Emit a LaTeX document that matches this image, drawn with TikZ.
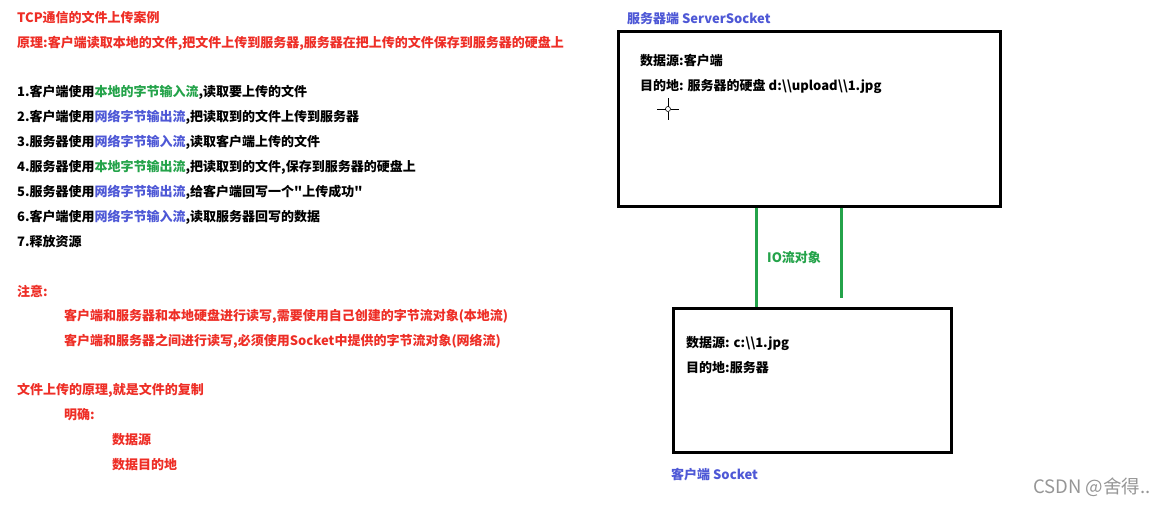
\documentclass[tikz,border=0pt]{standalone}
\usepackage{fontspec}
\usetikzlibrary{calc}
\setmainfont{Noto Sans CJK SC}
\newfontfamily\wmfont{Noto Sans CJK SC}
\font\qfb="Noto Sans CJK SC/B" at 13pt
\newcommand\sq{{\qfb\char34}}
\definecolor{tred}{RGB}{238,46,38}
\definecolor{tgreen}{RGB}{36,163,74}
\definecolor{tblue}{RGB}{78,88,214}
\definecolor{wgray}{RGB}{150,150,150}
\begin{document}
\begin{tikzpicture}[x=1pt,y=-1pt,
  txt/.style={anchor=base west,inner sep=0pt,font=\fontsize{13}{15}\selectfont\bfseries},
  red/.style={txt,text=tred},
  blk/.style={txt,text=black},
  blu/.style={txt,text=tblue},
  grn/.style={txt,text=tgreen},
  box/.style={draw=black,line width=3pt,inner sep=0pt},
  io/.style={draw=tgreen,line width=3pt}]
\useasboundingbox[fill=white] (0,0) rectangle (1171,504);
% left column
\node[red] (title) at (17,22) {TCP通信的文件上传案例};
\node[red] (princ) at (17,47) {原理:客户端读取本地的文件,把文件上传到服务器,服务器在把上传的文件保存到服务器的硬盘上};
\node[blk] (s1) at (17,96) {1.客户端使用\textcolor{tgreen}{本地的字节输入流},读取要上传的文件};
\node[blk] (s2) at (17,121) {2.客户端使用\textcolor{tblue}{网络字节输出流},把读取到的文件上传到服务器};
\node[blk] (s3) at (17,146) {3.服务器使用\textcolor{tblue}{网络字节输入流},读取客户端上传的文件};
\node[blk] (s4) at (17,171) {4.服务器使用\textcolor{tgreen}{本地字节输出流},把读取到的文件,保存到服务器的硬盘上};
\node[blk] (s5) at (17,196) {5.服务器使用\textcolor{tblue}{网络字节输出流},给客户端回写一个\sq 上传成功\sq};
\node[blk] (s6) at (17,221) {6.客户端使用\textcolor{tblue}{网络字节输入流},读取服务器回写的数据};
\node[blk] (s7) at (17,246) {7.释放资源};
\node[red] (note) at (17,296) {注意:};
\node[red] (n1) at (64,320) {客户端和服务器和本地硬盘进行读写,需要使用自己创建的字节流对象(本地流)};
\node[red] (n2) at (64,345) {客户端和服务器之间进行读写,必须使用Socket中提供的字节流对象(网络流)};
\node[red] (p) at (17,394) {文件上传的原理,就是文件的复制};
\node[red] (mq) at (64,419) {明确:};
\node[red] (ds) at (112,444) {数据源};
\node[red] (dd) at (112,469) {数据目的地};
% right diagram
\node[blu] (srvlbl) at (627,23) {服务器端 ServerSocket};
\node[box,minimum width=382pt,minimum height=175pt] (srv) at (809,118.5) {};
\node[blk] (srvsrc) at (640,65) {数据源:客户端};
\node[blk] (srvdst) at (640,90) {目的地: 服务器的硬盘 d:\textbackslash\textbackslash upload\textbackslash\textbackslash 1.jpg};
\node[box,minimum width=278pt,minimum height=144pt] (cli) at (812,380) {};
\node[blk] (clisrc) at (686,347) {数据源: c:\textbackslash\textbackslash 1.jpg};
\node[blk] (clidst) at (686,372) {目的地:服务器};
\node[blu] (clilbl) at (671,479) {客户端 Socket};
\coordinate (lx) at (756,0);
\coordinate (rx) at (841,0);
\coordinate (rend) at (841,298);
\draw[io] (srv.south -| lx) -- (cli.north -| lx);
\draw[io] (srv.south -| rx) -- (rend);
\node[grn] (iolbl) at (767,262) {IO流对象};
% cursor crosshair
\coordinate (cur) at (668,109);
\draw[black,line width=0.8pt] ($(cur)+(0,-11)$) -- ($(cur)+(0,-2.5)$) ($(cur)+(0,2.5)$) -- ($(cur)+(0,11)$)
  ($(cur)+(-11,0)$) -- ($(cur)+(-2.5,0)$) ($(cur)+(2.5,0)$) -- ($(cur)+(11,0)$);
\draw[black,line width=0.6pt] (cur) circle (2.5);
% watermark
\node[anchor=base west,inner sep=0pt,text=wgray,font=\wmfont\fontsize{18.5}{21}\selectfont] (wm) at (1033,493) {CSDN @舍得..};
\end{tikzpicture}
\end{document}
